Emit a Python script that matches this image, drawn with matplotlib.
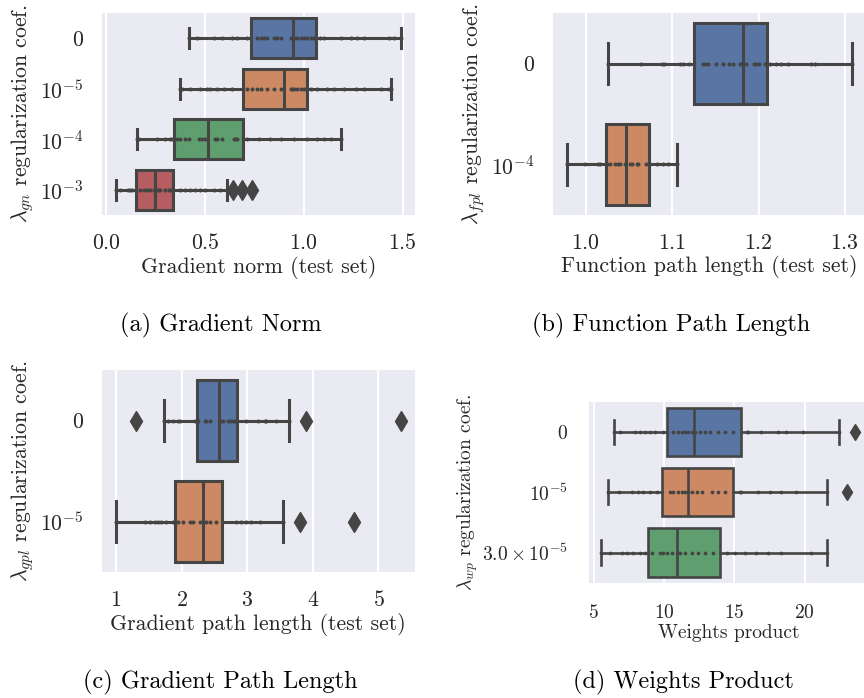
import numpy as np
import matplotlib.pyplot as plt

plt.rcParams['font.family'] = 'cmr10'
plt.rcParams['mathtext.fontset'] = 'cm'
plt.rcParams['axes.formatter.use_mathtext'] = True
plt.rcParams['axes.unicode_minus'] = False

colors = ['#5875a4', '#cc8963', '#5f9e6e', '#b55d60']
line_col = '#454545'
text_col = '#262626'

# (a) gradient norm
gn_labels = ['$0$', '$10^{-5}$', '$10^{-4}$', '$10^{-3}$']
gn_lo = [0.417, 0.375, 0.155, 0.051]
gn_q1 = [0.733, 0.694, 0.341, 0.152]
gn_med = [0.944, 0.899, 0.515, 0.245]
gn_q3 = [1.061, 1.017, 0.694, 0.338]
gn_hi = [1.490, 1.439, 1.186, 0.612]
gn_fliers = [[], [], [], [0.642, 0.689, 0.737]]
gn_points = [
    [0.417, 0.46, 0.544, 0.586, 0.637, 0.662, 0.713, 0.764, 0.781, 0.797, 0.814, 0.848, 0.865,
     0.882, 0.933, 0.941, 0.949, 0.966, 0.983, 1.0, 1.017, 1.034, 1.05, 1.084, 1.101, 1.186,
     1.236, 1.27, 1.304, 1.43, 1.456, 1.49],
    [0.375, 0.384, 0.426, 0.476, 0.51, 0.527, 0.561, 0.595, 0.637, 0.713, 0.739, 0.764, 0.781,
     0.814, 0.848, 0.882, 0.933, 0.941, 0.949, 0.966, 0.983, 1.0, 1.034, 1.068, 1.119, 1.153,
     1.203, 1.262, 1.304, 1.389, 1.43, 1.439],
    [0.155, 0.164, 0.257, 0.299, 0.324, 0.333, 0.358, 0.375, 0.4, 0.417, 0.468, 0.485, 0.502,
     0.552, 0.561, 0.586, 0.645, 0.654, 0.662, 0.713, 0.772, 0.831, 0.882, 0.95, 1.017, 1.068,
     1.101, 1.135, 1.186],
    [0.051, 0.071, 0.113, 0.122, 0.13, 0.172, 0.189, 0.206, 0.223, 0.24, 0.257, 0.265, 0.274,
     0.299, 0.316, 0.324, 0.375, 0.4, 0.426, 0.451, 0.476, 0.502, 0.544, 0.578, 0.612],
]

# (b) function path length
fpl_labels = ['$0$', '$10^{-4}$']
fpl_lo = [1.026, 0.978]
fpl_q1 = [1.125, 1.0235]
fpl_med = [1.1815, 1.046]
fpl_q3 = [1.21, 1.0725]
fpl_hi = [1.308, 1.106]
fpl_fliers = [[], []]
fpl_points = [
    [1.026, 1.064, 1.088, 1.091, 1.109, 1.113, 1.12, 1.136, 1.138, 1.141, 1.151, 1.159, 1.166,
     1.17, 1.178, 1.18, 1.186, 1.195, 1.197, 1.201, 1.207, 1.209, 1.213, 1.22, 1.226, 1.234,
     1.261, 1.265, 1.308],
    [0.978, 0.999, 1.014, 1.016, 1.024, 1.028, 1.034, 1.037, 1.039, 1.045, 1.051, 1.053, 1.059,
     1.06, 1.07, 1.074, 1.082, 1.089, 1.095, 1.106],
]

# (c) gradient path length
gpl_labels = ['$0$', '$10^{-5}$']
gpl_lo = [1.737, 1.0]
gpl_q1 = [2.24, 1.90]
gpl_med = [2.57, 2.32]
gpl_q3 = [2.84, 2.61]
gpl_hi = [3.63, 3.54]
gpl_fliers = [[1.31, 3.89, 5.34], [3.80, 4.62]]
gpl_points = [
    [1.737, 1.793, 1.869, 1.945, 1.971, 2.2, 2.25, 2.352, 2.378, 2.428, 2.581, 2.631, 2.707,
     2.733, 2.784, 2.809, 2.988, 3.165, 3.267, 3.293, 3.445, 3.63],
    [1.0, 1.438, 1.514, 1.59, 1.64, 1.692, 1.768, 1.869, 1.945, 2.021, 2.124, 2.174, 2.276,
     2.378, 2.428, 2.53, 2.835, 2.911, 2.988, 3.064, 3.19, 3.54],
]

# (d) weights product
wp_labels = ['$0$', '$10^{-5}$', r'$3.0\times10^{-5}$']
wp_lo = [6.46, 6.04, 5.55]
wp_q1 = [10.24, 9.84, 8.85]
wp_med = [12.15, 11.68, 10.9]
wp_q3 = [15.50, 14.89, 13.99]
wp_hi = [22.44, 21.59, 21.61]
wp_fliers = [[23.59], [23.02], []]
wp_points = [
    [6.46, 6.89, 7.95, 8.3, 8.66, 9.01, 9.37, 9.95, 10.66, 11.02, 11.25, 11.49, 11.72, 11.96,
     12.2, 12.55, 12.9, 13.26, 13.85, 14.32, 14.91, 15.86, 15.97, 16.91, 18.09, 18.68, 19.86,
     22.44],
    [6.04, 6.77, 7.72, 8.18, 8.54, 9.01, 9.49, 10.43, 10.66, 11.02, 11.26, 11.49, 11.72, 11.96,
     12.32, 12.67, 13.38, 13.85, 14.32, 15.38, 15.5, 16.68, 17.5, 18.33, 19.4, 21.59],
    [5.55, 6.18, 7.01, 7.36, 7.83, 8.3, 8.66, 9.13, 9.72, 9.95, 10.19, 10.54, 10.9, 11.14,
     11.49, 11.96, 12.43, 12.9, 13.49, 14.44, 15.03, 15.74, 16.57, 17.39, 18.33, 20.45, 21.61],
]


def panel(ax, labels, lo, q1, med, q3, hi, fliers, points, xlabel, ylabel, fs, lw, ylab_x, pad):
    n = len(labels)
    stats = [dict(whislo=lo[i], q1=q1[i], med=med[i], q3=q3[i], whishi=hi[i], fliers=fliers[i])
             for i in range(n)]
    ax.set_facecolor('#eaeaf2')
    bp = ax.bxp(stats, positions=range(n), widths=0.8, orientation='horizontal',
                patch_artist=True, showfliers=True,
                boxprops=dict(edgecolor=line_col, linewidth=lw),
                whiskerprops=dict(color=line_col, linewidth=lw),
                capprops=dict(color=line_col, linewidth=lw),
                medianprops=dict(color=line_col, linewidth=lw),
                flierprops=dict(marker='d', markerfacecolor=line_col, markeredgecolor=line_col,
                                markersize=lw * 4.4))
    for patch, c in zip(bp['boxes'], colors):
        patch.set_facecolor(c)
    for i in range(n):
        ax.scatter(points[i], np.full(len(points[i]), i), s=lw * 3.8, color='#444444',
                   zorder=4, linewidths=0)
    ax.set_ylim(n - 0.5, -0.5)
    ax.set_yticks(range(n))
    ax.set_yticklabels(labels)
    for s in ax.spines.values():
        s.set_visible(False)
    ax.grid(axis='x', color='white', linewidth=lw * 0.7)
    ax.set_axisbelow(True)
    ax.tick_params(length=0, labelsize=fs, colors=text_col, pad=pad)
    ax.set_xlabel(xlabel, fontsize=fs, color=text_col, labelpad=2)
    ax.set_ylabel(ylabel, fontsize=fs, color=text_col)
    ax.yaxis.set_label_coords(ylab_x, 0.5)


W, H = 864, 698
fig = plt.figure(figsize=(W / 100, H / 100), dpi=100)


def box(l, t, r, b):
    return [l / W, 1 - b / H, (r - l) / W, (b - t) / H]


ax1 = fig.add_axes(box(102, 13, 415, 215))
panel(ax1, gn_labels, gn_lo, gn_q1, gn_med, gn_q3, gn_hi, gn_fliers, gn_points,
      'Gradient norm (test set)', r'$\lambda_{gn}$ regularization coef.', 15.7, 2.2, -0.21, 13)
ax1.set_xticks([0.0, 0.5, 1.0, 1.5])

ax2 = fig.add_axes(box(552.7, 13, 866, 215))
panel(ax2, fpl_labels, fpl_lo, fpl_q1, fpl_med, fpl_q3, fpl_hi, fpl_fliers, fpl_points,
      'Function path length (test set)', r'$\lambda_{fpl}$ regularization coef.', 15.7, 2.2,
      -0.21, 13)
ax2.set_xticks([1.0, 1.1, 1.2, 1.3])

ax3 = fig.add_axes(box(101.7, 370, 415, 572.3))
panel(ax3, gpl_labels, gpl_lo, gpl_q1, gpl_med, gpl_q3, gpl_hi, gpl_fliers, gpl_points,
      'Gradient path length (test set)', r'$\lambda_{gpl}$ regularization coef.', 15.7, 2.2,
      -0.21, 13)
ax3.set_xticks([1, 2, 3, 4, 5])

ax4 = fig.add_axes(box(588.7, 401.7, 868, 582.7))
panel(ax4, wp_labels, wp_lo, wp_q1, wp_med, wp_q3, wp_hi, wp_fliers, wp_points,
      'Weights product', r'$\lambda_{wp}$ regularization coef.', 14, 1.9, -0.39, 15)
ax4.set_xticks([5, 10, 15, 20])

fig.text(221 / W, 1 - 325 / H, '(a) Gradient Norm', ha='center', va='center', fontsize=17.5)
fig.text(671 / W, 1 - 325 / H, '(b) Function Path Length', ha='center', va='center',
         fontsize=17.5)
fig.text(220 / W, 1 - 682 / H, '(c) Gradient Path Length', ha='center', va='center',
         fontsize=17.5)
fig.text(683 / W, 1 - 682 / H, '(d) Weights Product', ha='center', va='center', fontsize=17.5)

fig.savefig('out.png', dpi=100)
